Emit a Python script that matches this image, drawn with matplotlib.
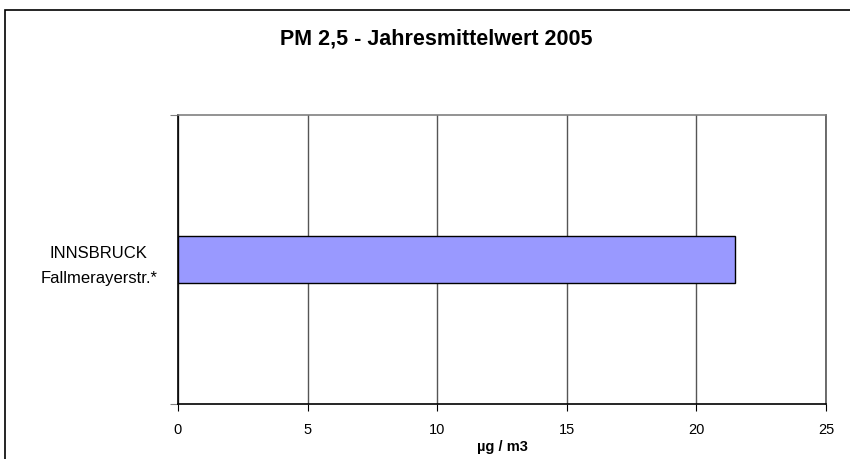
import matplotlib
matplotlib.use("Agg")
import matplotlib.pyplot as plt
from matplotlib.patches import Rectangle

plt.rcParams['font.family'] = ['Liberation Sans', 'DejaVu Sans']

# data
stations = ['INNSBRUCK\nFallmerayerstr.*']
values = [21.5]
xticks = [0, 5, 10, 15, 20, 25]

fig = plt.figure(figsize=(8.5, 4.59), dpi=100)
# outer chart border (right/bottom run off the picture)
fig.patches.append(Rectangle((5/850, -0.1), 1.2, 1 - 10/459 + 0.1, transform=fig.transFigure,
                             fill=False, edgecolor='black', linewidth=1.2))

ax = fig.add_axes([178/850, 1 - 404/459, 648/850, 289/459])
ax.barh(range(len(stations)), values, height=0.166, color='#9999ff',
        edgecolor='black', linewidth=1.0, zorder=3)

ax.set_xlim(0, 25)
ax.set_ylim(-0.5, len(stations) - 0.5)
ax.set_xticks(xticks)
ax.set_xticklabels([str(t) for t in xticks], fontsize=10.5)
ax.xaxis.grid(True, color='#555555', linewidth=1.0)
ax.tick_params(axis='x', direction='out', length=5, width=0.8, pad=9)

ax.set_yticks([-0.5, len(stations) - 0.5])
ax.set_yticklabels([])
ax.set_yticks(range(len(stations)), minor=True)
ax.set_yticklabels(stations, minor=True, fontsize=12, linespacing=1.8, ha='center')
ax.tick_params(axis='y', which='major', direction='out', length=6, width=0.8, color='#808080')
ax.tick_params(axis='y', which='minor', length=0, pad=57)

# right edge is the last gridline
ax.spines['right'].set_color('#555555')
ax.spines['right'].set_linewidth(1.2)
ax.spines['top'].set_color('#808080')
ax.spines['top'].set_linewidth(1.2)
ax.spines['left'].set_linewidth(1.2)
ax.spines['bottom'].set_linewidth(1.2)

ax.set_xlabel('µg / m3', fontsize=10.5, fontweight='bold', labelpad=2)
fig.text(436/850, 1 - 39/459, 'PM 2,5 - Jahresmittelwert 2005', ha='center', va='center',
         fontsize=15.5, fontweight='bold')

fig.savefig('out.png', dpi=100)
